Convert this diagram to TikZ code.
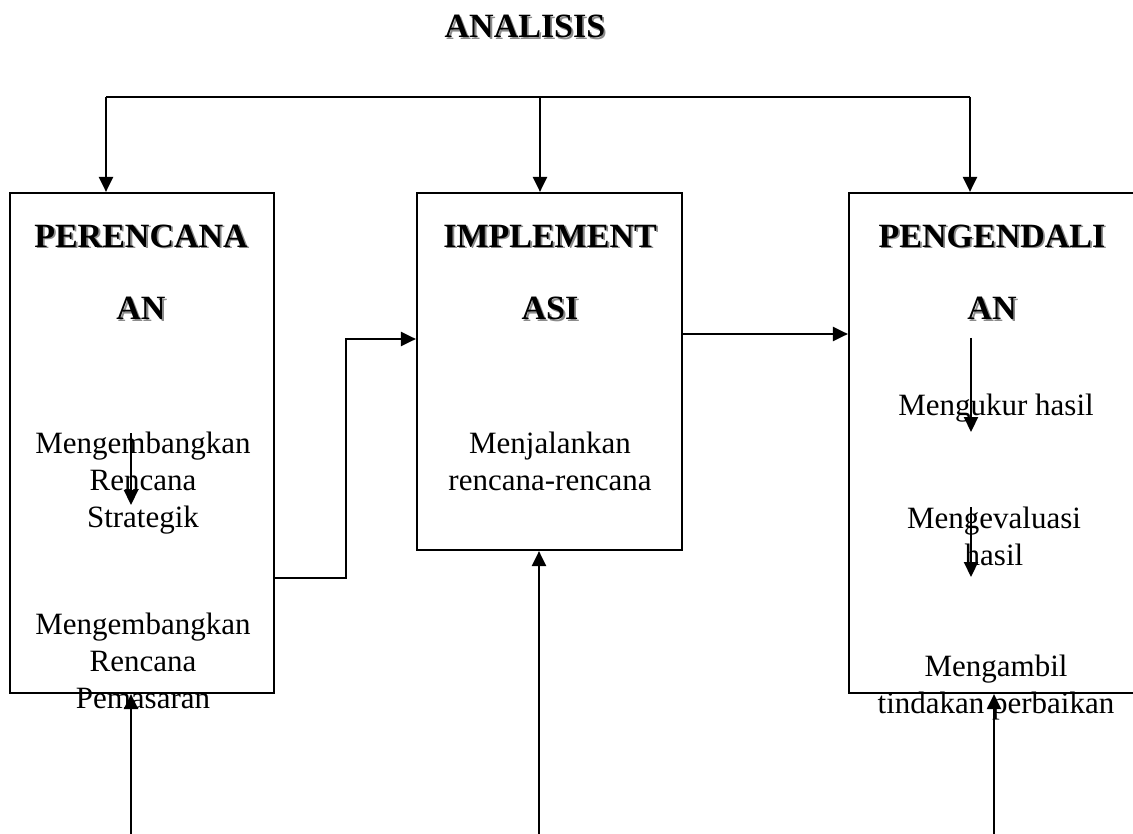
\documentclass[tikz,border=0pt]{standalone}
\usepackage{fontspec}
\setmainfont{Liberation Serif}
\usetikzlibrary{arrows.meta}

% heading letters with a soft grey drop shadow
\newcommand\shd[1]{\leavevmode\rlap{\kern1.8pt\raisebox{-1.8pt}{\textcolor{black!45}{#1}}}#1}

\tikzset{
  box/.style={draw, line width=2.2pt, inner sep=0pt},
  arr/.style={line width=2.2pt, -{Triangle[length=15pt,width=14pt]}},
  link/.style={line width=2.2pt},
  head/.style={align=center, anchor=base, inner sep=0pt,
    font=\fontsize{34}{73}\selectfont\bfseries},
  body/.style={align=center, anchor=base, inner sep=0pt,
    font=\fontsize{31}{37}\selectfont},
}

\begin{document}
\begin{tikzpicture}[x=1pt, y=-1pt]
\useasboundingbox (0,0) rectangle (1133,834);
\clip (0,0) rectangle (1133,834);

% title
\node[head] (title) at (525,38) {\shd{ANALISIS}};

% texts inside the three stages (base = baseline of the last line)
\node[head] (hplan) at (141,320) {\shd{PERENCANA}\\\shd{AN}};
\node[head] (himpl) at (550,320) {\shd{IMPLEMENT}\\\shd{ASI}};
\node[head] (hctrl) at (992,320) {\shd{PENGENDALI}\\\shd{AN}};

\node[body] (strat) at (143,527) {Mengembangkan\\Rencana\\Strategik};
\node[body] (pasar) at (143,708) {Mengembangkan\\Rencana\\Pemasaran};
\node[body] (jalan) at (550,490) {Menjalankan\\rencana-rencana};
\node[body] (ukur)  at (996,415) {Mengukur hasil};
\node[body] (eval)  at (994,565) {Mengevaluasi\\hasil};
\node[body] (ambil) at (996,713) {Mengambil\\tindakan perbaikan};

% stage boxes
\node[box, minimum width=264pt, minimum height=500pt] (plan) at (142,443) {};
\node[box, minimum width=265pt, minimum height=357pt] (impl) at (549.5,371.5) {};
\node[box, minimum width=291pt, minimum height=500pt] (ctrl) at (994.5,443) {};

% analysis feeds every stage
\coordinate (tl) at (106,97);
\coordinate (tm) at (540,97);
\coordinate (tr) at (970,97);
\draw[link] (tl) -- (tr);
\draw[arr] (tl) -- (tl |- plan.north);
\draw[arr] (tm) -- (tm |- impl.north);
\draw[arr] (tr) -- (tr |- ctrl.north);

% flow between stages
\coordinate (pOut) at (274,578);
\coordinate (jog) at (346,339);
\draw[arr] (pOut) -| (jog) -- (impl.west |- jog);
\coordinate (iOut) at (682,334);
\draw[arr] (iOut) -- (ctrl.west |- iOut);

% steps inside the stages
\coordinate (s1a) at (131,433);
\coordinate (s1b) at (131,505);
\draw[arr] (s1a) -- (s1b);
\coordinate (c1a) at (971,338);
\coordinate (c1b) at (971,432);
\draw[arr] (c1a) -- (c1b);
\coordinate (c2a) at (971,507);
\coordinate (c2b) at (971,577);
\draw[arr] (c2a) -- (c2b);

% inputs from below
\coordinate (b1) at (131,840);
\coordinate (b2) at (539,840);
\coordinate (b3) at (994,840);
\draw[arr] (b1) -- (b1 |- plan.south);
\draw[arr] (b2) -- (b2 |- impl.south);
\draw[arr] (b3) -- (b3 |- ctrl.south);
\end{tikzpicture}
\end{document}
